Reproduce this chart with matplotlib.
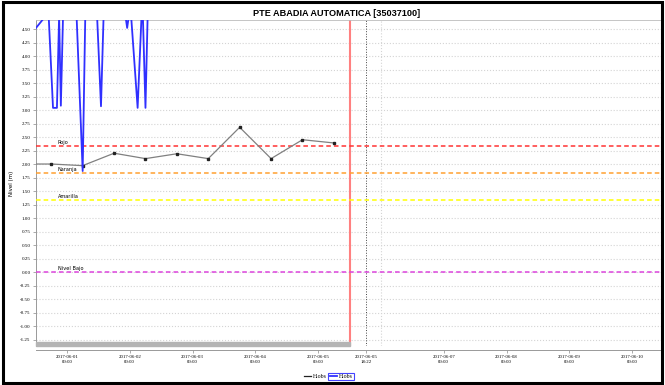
import matplotlib
matplotlib.use('Agg')
import matplotlib.pyplot as plt
import matplotlib.dates as mdates
import pandas as pd
from matplotlib.lines import Line2D
from matplotlib.patches import Rectangle
from matplotlib.ticker import FixedFormatter, FixedLocator

# observed level, 12-hourly (black)
obs_times = ['2017-05-31 06:00', '2017-05-31 18:00', '2017-06-01 06:00',
             '2017-06-01 18:00', '2017-06-02 06:00', '2017-06-02 18:00',
             '2017-06-03 06:00', '2017-06-03 18:00', '2017-06-04 06:00',
             '2017-06-04 18:00', '2017-06-05 06:00']
obs_vals = [2.00, 2.00, 1.97, 2.20, 2.10, 2.19, 2.10, 2.68, 2.10, 2.45, 2.39]

# observed level, automatic station (blue), mostly above the visible range
auto_times = ['2017-05-31 11:50', '2017-05-31 16:00', '2017-05-31 17:00',
              '2017-05-31 18:40', '2017-05-31 20:10', '2017-05-31 21:00',
              '2017-05-31 21:40', '2017-05-31 22:30', '2017-06-01 03:40',
              '2017-06-01 06:00', '2017-06-01 07:00', '2017-06-01 11:30',
              '2017-06-01 13:00', '2017-06-01 14:00', '2017-06-01 22:20',
              '2017-06-01 23:00', '2017-06-01 23:40', '2017-06-02 00:30',
              '2017-06-02 03:00', '2017-06-02 04:30', '2017-06-02 05:00',
              '2017-06-02 06:00', '2017-06-02 06:50', '2017-06-02 10:00']
auto_vals = [4.50, 4.75, 4.75, 3.04, 3.04, 4.75, 3.08, 4.75, 4.75, 1.87,
             4.75, 4.75, 3.07, 4.75, 4.75, 4.52, 4.75, 4.75, 3.04, 4.75,
             4.75, 3.04, 4.75, 4.75]

# alert thresholds
thr_names = ['Rojo', 'Naranja', 'Amarilla', 'Nivel Bajo']
thr_vals = [2.33, 1.83, 1.33, 0.00]
thr_colors = ['#ff3333', '#ffa030', '#ffff00', '#dd44dd']

now_time = '2017-06-05 12:10'
ref_time = '2017-06-05 18:22'
x_start, x_end = '2017-05-31 12:10', '2017-06-10 11:00'
tick_days = ['2017-06-01', '2017-06-02', '2017-06-03', '2017-06-04',
             '2017-06-05', '2017-06-07', '2017-06-08', '2017-06-09',
             '2017-06-10']
grid_days = pd.date_range('2017-06-01', '2017-06-10', freq='D')
y_ticks = [-1.25 + 0.25 * i for i in range(24)]

fig = plt.figure(figsize=(6.65, 3.85), dpi=100)
ax = fig.add_axes([36 / 665, 1 - 346 / 385, 625 / 665, 326 / 385])

ax.plot(pd.to_datetime(obs_times), obs_vals, color='#808080', lw=0.9,
        marker='s', markersize=1.6, markerfacecolor='#222222',
        markeredgecolor='#222222', zorder=4)
ax.plot(pd.to_datetime(auto_times), auto_vals, color='#3030ff', lw=1.3,
        zorder=5)

for name, val, col in zip(thr_names, thr_vals, thr_colors):
    ax.axhline(val, color=col, lw=1.1, ls=(0, (3, 2)), zorder=3)
    ax.annotate(name, xy=(0.035, val), xycoords=ax.get_yaxis_transform(),
                xytext=(0, 1), textcoords='offset points', fontsize=3.6,
                va='bottom', ha='left', zorder=6)

ax.axvline(pd.Timestamp(now_time), color='#ff8080', lw=1.5, zorder=2)
ax.axvline(pd.Timestamp(ref_time), color='#444444', lw=0.7, ls=':', zorder=2)

# scroll bar at the bottom of the plot
x0n = mdates.date2num(pd.Timestamp(x_start))
ax.add_patch(Rectangle((x0n, 0.0),
                       mdates.date2num(pd.Timestamp(now_time)) - x0n, 0.013,
                       transform=ax.get_xaxis_transform(), color='#b4b4b4',
                       zorder=6, clip_on=False))

ax.set_xlim(pd.Timestamp(x_start), pd.Timestamp(x_end))
ax.set_ylim(-1.37, 4.667)

xt = list(pd.to_datetime(tick_days)) + [pd.Timestamp(ref_time)]
xl = [f'{d:%Y-%m-%d}\n{d:%H:%M}' for d in xt]
ax.xaxis.set_major_locator(FixedLocator(mdates.date2num(xt)))
ax.xaxis.set_major_formatter(FixedFormatter(xl))
ax.xaxis.set_minor_locator(FixedLocator(mdates.date2num(grid_days)))
ax.tick_params(axis='x', which='minor', length=0)
ax.tick_params(axis='x', which='major', length=2, width=0.5, pad=1.5,
               color='#888888', labelsize=3.5,
               labelfontfamily='Liberation Serif')
ax.grid(True, which='minor', axis='x', color='#d4d4d4', ls=':', lw=0.8)

ax.yaxis.set_major_locator(FixedLocator(y_ticks))
ax.yaxis.set_major_formatter(FixedFormatter([f'{v:.2f}' for v in y_ticks]))
ax.tick_params(axis='y', length=2, width=0.5, pad=2, color='#888888',
               labelsize=3.6, labelfontfamily='Liberation Serif')
ax.grid(True, which='major', axis='y', color='#d4d4d4', ls=':', lw=0.8)
ax.set_ylabel('Nivel (m)', fontsize=4, labelpad=4)

for side in ['top', 'right']:
    ax.spines[side].set_color('#bbbbbb')
    ax.spines[side].set_linewidth(0.6)
ax.spines['left'].set_color('#999999')
ax.spines['left'].set_linewidth(0.7)
ax.spines['bottom'].set_color('#999999')
ax.spines['bottom'].set_linewidth(0.7)
ax.spines['bottom'].set_position(('outward', 3))

fig.text(337 / 665, 1 - 13 / 385, 'PTE ABADIA AUTOMATICA [35037100]',
         fontsize=6.6, fontweight='bold', family='Liberation Sans',
         ha='center', va='center')

handles = [Line2D([], [], color='#222222', lw=0.9),
           Line2D([], [], color='#3030ff', lw=1.3)]
leg = fig.legend(handles, ['H.obs', 'H.obs'], loc='center',
                 bbox_to_anchor=(328 / 665, 1 - 376 / 385),
                 ncol=2, frameon=False, handlelength=1.2,
                 handletextpad=0.3, columnspacing=0.6,
                 prop={'family': 'Liberation Serif', 'size': 4.2})
fig.canvas.draw()
r = fig.canvas.get_renderer()
bb1 = leg.legend_handles[1].get_window_extent(r)
bb2 = leg.get_texts()[1].get_window_extent(r)
x0, x1 = min(bb1.x0, bb2.x0) - 2, max(bb1.x1, bb2.x1) + 2
y0, y1 = min(bb1.y0, bb2.y0) - 1, max(bb1.y1, bb2.y1) + 1
W, H = fig.bbox.width, fig.bbox.height
fig.add_artist(Rectangle((x0 / W, y0 / H), (x1 - x0) / W, (y1 - y0) / H,
                         transform=fig.transFigure, fill=False,
                         edgecolor='#4444ff', lw=0.8))

fig.add_artist(Rectangle((0.004, 0.006), 0.992, 0.988,
                         transform=fig.transFigure, fill=False,
                         edgecolor='black', lw=2.2))

fig.savefig('out.png', dpi=100)
